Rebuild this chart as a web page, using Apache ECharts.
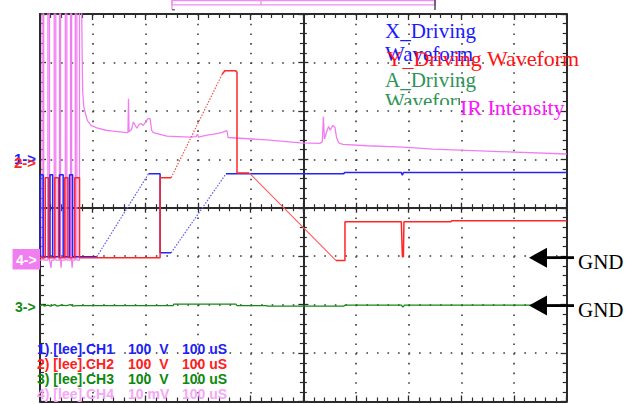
<!DOCTYPE html>
<html>
<head>
<meta charset="utf-8">
<title>Driving waveforms</title>
<style>
html, body { margin: 0; padding: 0; background: #ffffff; }
#scope { width: 633px; height: 404px; }
</style>
<script src="https://cdn.jsdelivr.net/npm/echarts@6/dist/echarts.min.js"></script>
</head>
<body>
<div id="scope"></div>
<script>
// Horizontal axis: time in uS (100 uS/div, 10 divisions).
// Vertical axis: screen divisions measured from the centre line (8 divisions).
const timeRange = [0, 1000];
const timePerDiv = 100;
const divRange = [-4, 4];

// CH1 - X driving waveform: steady parts, then the fast ramps between them
const ch1Segments = [
  [[0, -1.01], [1, -1.01], [1, 0.68], [6, 0.68], [6, -1.01], [19, -1.01], [19, 0.68], [24, 0.68],
   [24, -1.01], [37, -1.01], [37, 0.68], [44, 0.68], [44, -1.01], [56, -1.01], [56, 0.68], [62, 0.68],
   [62, -1.01], [108, -1.01]],
  [[206, 0.70], [228, 0.70], [228, -0.93], [249, -0.93]],
  [[353, 0.70], [577, 0.70], [578, 0.73], [686, 0.73], [688, 0.67], [690, 0.73], [1000, 0.73]]
];
const ch1Ramps = [
  [[108, -1.01], [206, 0.70]],
  [[249, -0.93], [353, 0.70]]
];

// CH2 - Y driving waveform
const ch2Segments = [
  [[0, -1.03], [10, -1.03], [10, 0.62], [16, 0.62], [16, -1.03], [28, -1.03], [28, 0.62], [35, 0.62],
   [35, -1.03], [47, -1.03], [47, 0.62], [53, 0.62], [53, -1.03], [66, -1.03], [66, 0.62], [75, 0.62],
   [75, -1.03], [228, -1.03], [228, 0.62], [249, 0.62]],
  [[346, 2.76], [351, 2.83], [371, 2.83], [374, 2.80], [374, 0.72], [397, 0.72]],
  [[562, -1.09], [579, -1.09], [579, -0.29], [686, -0.29], [688, -1.01], [690, -1.01], [691, -0.29],
   [780, -0.29], [782, -0.27], [1000, -0.27]]
];
const ch2Ramps = [
  [[249, 0.62], [346, 2.76]]
];
const ch2Fall = [[397, 0.72], [562, -1.09]];

// CH3 - A driving waveform
const ch3Trace = [
  [0, -2.02], [5, -2.0], [8, -2.03], [15, -2.01], [20, -2.03], [28, -2.0], [33, -2.03], [40, -2.01],
  [50, -2.02], [58, -2.0], [62, -2.03], [70, -2.02], [253, -2.02], [254, -1.99], [372, -1.99],
  [374, -2.02], [430, -2.02], [432, -2.03], [577, -2.03], [579, -2.01], [686, -2.01], [689, -2.05],
  [692, -2.01], [1000, -2.01]
];

// CH4 - IR intensity
const ch4Trace = [
  [0, -1.08], [4, -1.08], [4, 4.2], [7, 4.2], [7, -1.08], [15, -1.08], [15, 4.2], [18, 4.2],
  [18, -1.08], [21, -1.24], [22, -1.08], [27, -1.08], [27, 4.2], [30, 4.2], [30, -1.08], [37, -1.08],
  [37, 4.2], [39, 4.2], [39, -1.08], [40, -1.24], [41, -1.08], [48, -1.08], [48, 4.2], [51, 4.2],
  [51, -1.08], [58, -1.08], [58, 4.2], [60, 4.2], [60, -1.08], [61, -1.24], [62, -1.08], [67, -1.08],
  [67, 4.2], [70, 4.2], [70, -1.08], [75, -1.08], [75, 4.2], [79, 4.2], [80, 3.2], [81, 2.4],
  [83, 2.1], [85, 2.0], [90, 1.80], [97, 1.70], [108, 1.65], [125, 1.60], [139, 1.58], [165, 1.55],
  [167, 1.55], [168, 2.25], [169, 1.57], [174, 1.62], [177, 1.77], [180, 1.72], [184, 1.64],
  [188, 1.72], [192, 1.74], [196, 1.70], [201, 1.78], [205, 1.84], [209, 1.84], [212, 1.60],
  [215, 1.55], [241, 1.48], [285, 1.46], [297, 1.47], [299, 1.52], [301, 1.46], [317, 1.50],
  [330, 1.52], [345, 1.55], [352, 1.58], [355, 1.59], [357, 1.45], [431, 1.40], [494, 1.34],
  [532, 1.33], [536, 1.36], [538, 1.88], [540, 1.42], [544, 1.56], [548, 1.68], [551, 1.60],
  [556, 1.70], [560, 1.66], [563, 1.45], [567, 1.34], [575, 1.31], [621, 1.28], [689, 1.25],
  [746, 1.21], [873, 1.16], [1000, 1.11]
];

// Ground reference levels marked at the right edge (CH4/CH2 level and CH3 level)
const gndLevels = [-1.03, -2.02];

const legendLabels = ['X_Driving', 'Waveform', 'Y_Driving Waveform', 'A_Driving', 'Waveform', 'IR Intensity'];
const channelMarkers = ['1->', '2->', '3->', '4->'];
const channelRows = [
  ['1) [lee].CH1', '100  V', '100 uS'],
  ['2) [lee].CH2', '100  V', '100 uS'],
  ['3) [lee].CH3', '100  V', '100 uS'],
  ['4) [lee].CH4', '10 mV', '100 uS']
];

const BLUE = '#2424f4';
const RED = '#ff2626';
const GREEN = '#138a13';
const PINK = '#f07ef0';
const FRAME = '#2b2b2b';

const chart = echarts.init(document.getElementById('scope'), null, { renderer: 'svg' });

const gridBox = { left: 40, top: 14, width: 526.7, height: 387.5, containLabel: false, outerBoundsMode: 'none', show: false };

function borderAxis(pos, isX) {
  const ax = {
    type: 'value',
    gridIndex: 0,
    position: pos,
    min: isX ? timeRange[0] : divRange[0],
    max: isX ? timeRange[1] : divRange[1],
    interval: isX ? timePerDiv : 1,
    axisLine: { show: true, onZero: false, lineStyle: { color: FRAME, width: 2 } },
    axisTick: { show: true, inside: true, length: 6, lineStyle: { color: FRAME, width: 1.3 } },
    minorTick: { show: true, splitNumber: 5, length: 4, lineStyle: { color: FRAME, width: 1.2 } },
    axisLabel: { show: false },
    splitLine: { show: false },
    minorSplitLine: { show: false },
    silent: true,
    z: 1
  };
  if (pos === 'bottom') {
    ax.splitLine = { show: true, lineStyle: { color: '#3a3a3a', width: 1.6, type: [1.6, 8.09] } };
  }
  if (pos === 'left') {
    ax.splitLine = { show: true, lineStyle: { color: '#3a3a3a', width: 1.6, type: [1.6, 8.93] } };
  }
  return ax;
}

function centreAxis(pos, isX) {
  return {
    type: 'value',
    gridIndex: 1,
    position: pos,
    min: isX ? -5 : -4,
    max: isX ? 5 : 4,
    interval: 1,
    axisLine: { show: true, onZero: true, lineStyle: { color: FRAME, width: 2 } },
    axisTick: { show: true, inside: true, length: 5, lineStyle: { color: FRAME, width: 1.3 } },
    minorTick: { show: true, splitNumber: 5, length: 3.5, lineStyle: { color: FRAME, width: 1.2 } },
    axisLabel: { show: false },
    splitLine: { show: false },
    silent: true,
    z: 2
  };
}

function lineSeries(data, color, width, dash, z) {
  return {
    type: 'line',
    xAxisIndex: 0,
    yAxisIndex: 0,
    data: data,
    showSymbol: false,
    symbol: 'none',
    silent: true,
    animation: false,
    clip: true,
    z: z,
    lineStyle: { color: color, width: width, type: dash || 'solid' }
  };
}

const series = [];
series.push(lineSeries(ch3Trace, GREEN, 1.3, null, 3));
series.push(lineSeries(ch4Trace, PINK, 1.3, null, 4));
ch1Segments.forEach(s => series.push(lineSeries(s, BLUE, 1.5, null, 5)));
ch1Ramps.forEach(s => series.push(lineSeries(s, '#5a5af6', 1.2, [1.5, 1.5], 5)));
ch2Segments.forEach(s => series.push(lineSeries(s, RED, 1.5, null, 6)));
ch2Ramps.forEach(s => series.push(lineSeries(s, '#ff4a4a', 1.2, [1.5, 1.5], 6)));
series.push(lineSeries(ch2Fall, '#ff5a5a', 1.1, null, 6));

chart.setOption({
  animation: false,
  backgroundColor: '#ffffff',
  grid: [Object.assign({}, gridBox), Object.assign({}, gridBox)],
  xAxis: [borderAxis('bottom', true), borderAxis('top', true), centreAxis('bottom', true), centreAxis('top', true)],
  yAxis: [borderAxis('left', false), borderAxis('right', false), centreAxis('left', false), centreAxis('right', false)],
  series: series
});

// Annotations: legend, channel markers, channel settings, GND arrows, time-window bracket
const serif = 'Liberation Serif, Times New Roman, serif';
const sans = 'Liberation Sans, Arial, sans-serif';
const g = [];

function txt(text, x, y, size, color, opts) {
  const o = opts || {};
  return {
    type: 'text', z: o.z || 50, silent: true,
    style: {
      text: text, x: x, y: y,
      font: (o.bold ? 'bold ' : '') + size + 'px ' + (o.family || sans),
      fill: color, align: 'left', verticalAlign: 'middle'
    }
  };
}

// time-window indicator above the frame
g.push({ type: 'rect', silent: true, z: 40, shape: { x: 172, y: 0.5, width: 263, height: 4.3 }, style: { fill: 'none', stroke: '#f28df2', lineWidth: 1.3 } });
g.push({ type: 'line', silent: true, z: 40, shape: { x1: 172, y1: 0, x2: 172, y2: 9.5 }, style: { stroke: '#f28df2', lineWidth: 1.3 } });
g.push({ type: 'line', silent: true, z: 40, shape: { x1: 172, y1: 9.8, x2: 175, y2: 9.8 }, style: { stroke: '#333', lineWidth: 1 } });
g.push({ type: 'line', silent: true, z: 40, shape: { x1: 435, y1: 0, x2: 435, y2: 10 }, style: { stroke: '#333', lineWidth: 1.3 } });
g.push({ type: 'line', silent: true, z: 40, shape: { x1: 261, y1: 0, x2: 261, y2: 5 }, style: { stroke: '#f28df2', lineWidth: 1.3 } });

// channel reference markers
g.push(txt(channelMarkers[0], 14, 158, 15, BLUE, { bold: true }));
g.push(txt(channelMarkers[1], 14, 162.5, 15, RED, { bold: true }));
g.push({ type: 'rect', silent: true, z: 45, shape: { x: 12.5, y: 249, width: 27.5, height: 20.5 }, style: { fill: PINK } });
g.push(txt(channelMarkers[3], 16, 259.5, 14, '#ffffff', { bold: true }));
g.push(txt(channelMarkers[2], 15, 307, 14, GREEN, { bold: true }));

// channel settings table
const rowColors = ['#1e1ef5', '#ff2020', '#0c880c', '#f6a6f6'];
channelRows.forEach((row, i) => {
  const y = 349 + i * 15;
  g.push(txt(row[0], 37, y, 14, rowColors[i], { bold: true, z: 30 }));
  g.push(txt(row[1], 128, y, 14, rowColors[i], { bold: true, z: 30 }));
  g.push(txt(row[2], 182, y, 14, rowColors[i], { bold: true, z: 30 }));
});

// legend text
g.push(txt(legendLabels[0], 385, 31, 21, '#1a1aff', { family: serif }));
g.push(txt(legendLabels[1], 385, 54, 21, '#1a1aff', { family: serif }));
g.push(txt(legendLabels[3], 385, 80, 21, '#2f9458', { family: serif }));

// GND arrows at the right edge
gndLevels.forEach(v => {
  const y = chart.convertToPixel({ yAxisIndex: 0 }, v);
  g.push({ type: 'polygon', silent: true, z: 50, shape: { points: [[529, y], [547, y - 10], [547, y + 10]] }, style: { fill: '#000' } });
  g.push({ type: 'line', silent: true, z: 50, shape: { x1: 545, y1: y, x2: 574, y2: y }, style: { stroke: '#000', lineWidth: 2.8 } });
  g.push(txt('GND', 578, y + 4, 21, '#000', { family: serif }));
});

chart.setOption({ graphic: g });

// Legend entries whose boxes cut the text off
const zr = chart.getZr();
function clippedText(text, x, y, size, color, clip) {
  const t = new echarts.graphic.Text({
    z: 60, silent: true,
    style: { text: text, x: x, y: y, font: size + 'px ' + serif, fill: color, align: 'left', verticalAlign: 'middle' }
  });
  t.setClipPath(new echarts.graphic.Rect({ shape: clip }));
  zr.add(t);
}
clippedText(legendLabels[2], 386.5, 58.7, 22, '#ff1414', { x: 380, y: 40, width: 200, height: 40 });
clippedText(legendLabels[4], 385, 101, 21, '#2f9458', { x: 380, y: 88, width: 80, height: 17 });
clippedText(legendLabels[5], 460, 107, 22, '#ff14ff', { x: 455, y: 90, width: 112, height: 30 });
</script>
</body>
</html>
